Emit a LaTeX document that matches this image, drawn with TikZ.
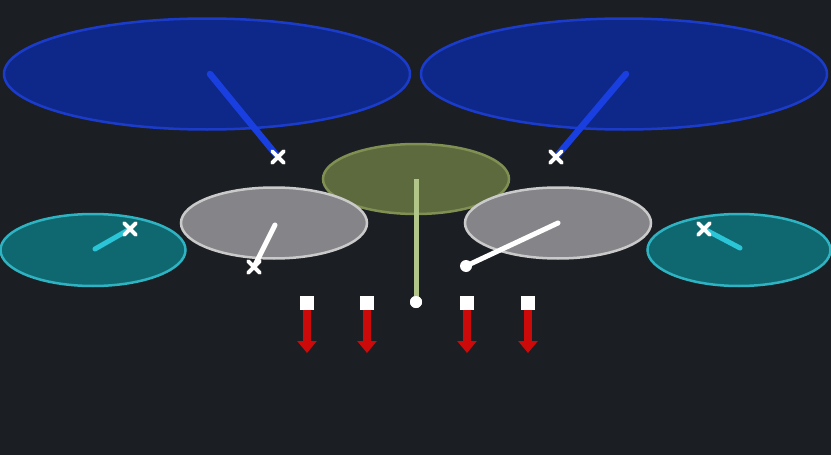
\documentclass[tikz,border=0pt]{standalone}
\usepackage{xcolor}
\usetikzlibrary{shapes.geometric,shapes.misc,arrows.meta}
\definecolor{bgdark}{HTML}{1B1E23}
\definecolor{cymfill}{HTML}{0E2889}
\definecolor{cymedge}{HTML}{1B3CCB}
\definecolor{cymstick}{HTML}{1A3FE0}
\definecolor{ridefill}{HTML}{5C6A3E}
\definecolor{rideedge}{HTML}{808F52}
\definecolor{ridestick}{HTML}{B3C68A}
\definecolor{tomfill}{HTML}{858589}
\definecolor{tomedge}{HTML}{CACACA}
\definecolor{hatfill}{HTML}{0F6870}
\definecolor{hatedge}{HTML}{2DB3C1}
\definecolor{hatstick}{HTML}{2BC5D8}
\definecolor{kickred}{HTML}{CC0A0A}

\tikzset{
  pad/.style={ellipse, draw, line width=2.5pt, inner sep=0pt},
  hitmark/.style={cross out, draw=white, line width=3.6pt, line cap=round, minimum size=8pt, inner sep=0pt},
  tip/.style={circle, fill=white, minimum size=12pt, inner sep=0pt},
  pedal/.style={rectangle, fill=white, minimum size=14pt, inner sep=0pt}
}

\begin{document}
\begin{tikzpicture}[x=1pt,y=-1pt]
				\fill [bgdark] (0,0) rectangle (831,455);
				\useasboundingbox (0,0) rectangle (831,455);
				
				% crashes
				\node [pad, fill=cymfill, draw=cymedge, minimum width=406pt, minimum height=111pt] (crashL) at (207,74) {};
				\node [pad, fill=cymfill, draw=cymedge, minimum width=406pt, minimum height=111pt] (crashR) at (624,74) {};
				\node [hitmark] (xcrashL) at (278,157) {};
				\node [hitmark] (xcrashR) at (556,157) {};
				\draw [cymstick, line width=6.5pt, line cap=round] (210,74) -- (xcrashL.center);
				\draw [cymstick, line width=6.5pt, line cap=round] (626,74) -- (xcrashR.center);
				\node [hitmark] at (xcrashL) {};
				\node [hitmark] at (xcrashR) {};
				
				% hi-hats
				\node [pad, fill=hatfill, draw=hatedge, minimum width=185pt, minimum height=72pt] (hatL) at (93,250) {};
				\node [pad, fill=hatfill, draw=hatedge, minimum width=183pt, minimum height=72pt] (hatR) at (739,250) {};
				\coordinate (hatLc) at (95,249);
				\coordinate (hatRc) at (740,248);
				\node [hitmark] (xhatL) at (130,229) {};
				\node [hitmark] (xhatR) at (704,229) {};
				\draw [hatstick, line width=5pt, line cap=round] (hatLc) -- (xhatL.center);
				\draw [hatstick, line width=5pt, line cap=round] (hatRc) -- (xhatR.center);
				\node [hitmark] at (xhatL) {};
				\node [hitmark] at (xhatR) {};
				
				% ride
				\node [pad, fill=ridefill, draw=rideedge, minimum width=186pt, minimum height=70pt] (ride) at (416,179) {};
				
				% toms
				\node [pad, fill=tomfill, draw=tomedge, minimum width=186pt, minimum height=71pt] (tomL) at (274,223) {};
				\node [pad, fill=tomfill, draw=tomedge, minimum width=186pt, minimum height=71pt] (tomR) at (558,223) {};
				
				\node [tip] (rideend) at (416,302) {};
				\draw [ridestick, line width=5pt] (ride.center) -- (rideend.center);
				\node [tip] at (rideend) {};
				
				\node [hitmark] (xtomL) at (254,267) {};
				\draw [white, line width=5pt, line cap=round] (275,225) -- (xtomL.center);
				\node [hitmark] at (xtomL) {};
				
				\node [tip] (tomRend) at (466,266) {};
				\draw [white, line width=5pt, line cap=round] (558,223) -- (tomRend.center);
				
				% % % % % % % % % % % % % % % % % % % % % % % % % %
				
				% kicks
				\foreach \k/\px in {a/307,b/367,c/467,d/528}{
					\node [pedal] (kick\k) at (\px,303) {};
					\coordinate (down\k) at (\px,353);
					\draw [kickred, line width=8pt, -{Triangle[length=12pt,width=19pt]}] (kick\k.south) -- (down\k);
				}
				\end{tikzpicture}
\end{document}
